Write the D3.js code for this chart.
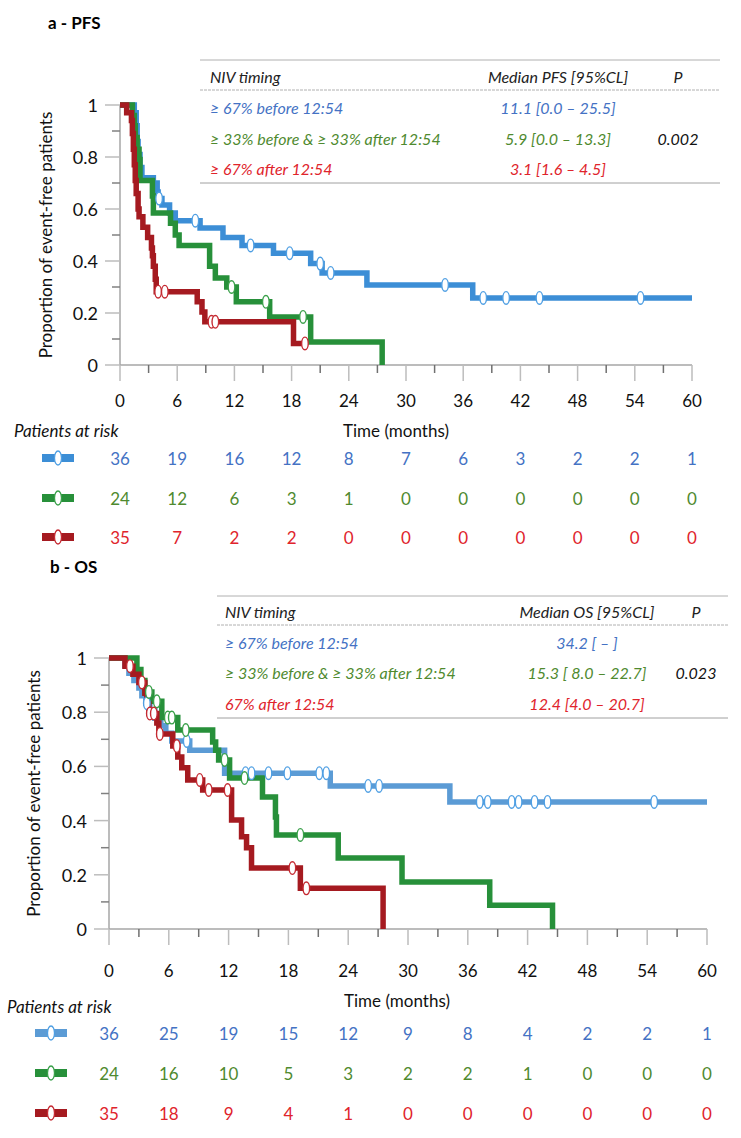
<!DOCTYPE html>
<html>
<head>
<meta charset="utf-8">
<script src="https://cdn.jsdelivr.net/npm/d3@7"></script>
<style>
body { margin: 0; background: #fff; }
svg text { font-family: Lato, "Open Sans", sans-serif; }
</style>
</head>
<body>
<svg id="chart" width="741" height="1138"></svg>
<script>
// ---- data ----
var months = [0, 6, 12, 18, 24, 30, 36, 42, 48, 54, 60];
var minorMonths = [3, 9, 15, 21, 27, 33, 39, 45, 51, 57];
var yTicks = [0, 0.2, 0.4, 0.6, 0.8, 1];
var yMinor = [0.1, 0.3, 0.5, 0.7, 0.9];

var pfsGroups = ["≥ 67% before 12:54", "≥ 33% before & ≥ 33% after 12:54", "≥ 67% after 12:54"];
var osGroups = ["≥ 67% before 12:54", "≥ 33% before & ≥ 33% after 12:54", "67% after 12:54"];
var pfsMedians = ["11.1 [0.0 – 25.5]", "5.9 [0.0 – 13.3]", "3.1 [1.6 – 4.5]"];
var osMedians = ["34.2 [ – ]", "15.3 [ 8.0 – 22.7]", "12.4 [4.0 – 20.7]"];
var pfsP = "0.002";
var osP = "0.023";

// step curves: [month, survival]
var pfsBlue = [[0,1],[1.5,0.97],[1.7,0.92],[1.8,0.86],[1.9,0.81],[2.1,0.76],[2.3,0.72],[3.5,0.70],[3.9,0.665],[4.0,0.64],[4.4,0.615],[5.2,0.585],[5.8,0.555],[8.4,0.527],[10.8,0.49],[12.8,0.46],[16.1,0.43],[20.0,0.39],[21.2,0.354],[25.9,0.308],[37.0,0.258],[60,0.258]];
var pfsGreen = [[0,1],[1.3,0.96],[1.5,0.92],[1.6,0.875],[1.8,0.83],[2.0,0.79],[2.1,0.71],[3.4,0.65],[3.5,0.585],[5.3,0.545],[5.8,0.50],[6.2,0.46],[9.4,0.38],[10.0,0.335],[11.2,0.30],[12.2,0.243],[15.7,0.185],[20.0,0.088],[27.5,0]];
var pfsRed = [[0,1],[0.7,0.97],[1.2,0.94],[1.3,0.89],[1.4,0.83],[1.5,0.77],[1.6,0.71],[1.7,0.66],[1.9,0.6],[2.0,0.57],[2.4,0.53],[2.9,0.49],[3.3,0.45],[3.4,0.42],[3.5,0.38],[3.7,0.33],[3.8,0.282],[8.1,0.243],[8.6,0.204],[8.9,0.166],[18.2,0.083],[19.4,0.083]];
var pfsBlueCens = [4.1, 7.9, 13.7, 17.8, 21.0, 22.1, 34.1, 38.1, 40.5, 44.0, 54.6];
var pfsGreenCens = [11.7, 15.3, 19.2];
var pfsRedCens = [4.0, 4.7, 9.6, 10.0, 19.4];

var osBlue = [[0,1],[1.6,0.972],[2.0,0.944],[2.5,0.917],[3.0,0.889],[3.3,0.861],[3.7,0.833],[4.1,0.806],[4.6,0.778],[5.2,0.75],[5.7,0.722],[6.3,0.694],[8.1,0.66],[11.6,0.575],[22.2,0.528],[34.2,0.469],[60,0.469]];
var osGreen = [[0,1],[2.8,0.958],[3.2,0.917],[3.6,0.875],[4.3,0.84],[5.3,0.78],[6.9,0.734],[10.4,0.69],[10.7,0.66],[11.0,0.624],[12.1,0.557],[15.4,0.487],[16.7,0.413],[16.8,0.347],[23.0,0.262],[29.4,0.173],[38.2,0.088],[44.5,0]];
var osRed = [[0,1],[1.6,0.97],[2.4,0.94],[3.0,0.91],[3.6,0.87],[3.8,0.83],[4.0,0.795],[4.8,0.76],[5.0,0.72],[6.4,0.675],[6.9,0.635],[7.3,0.595],[7.9,0.55],[9.4,0.513],[12.3,0.402],[13.3,0.34],[13.8,0.30],[14.3,0.225],[19.2,0.15],[27.5,0]];
var osBlueCens = [3.8, 7.8, 13.7, 14.3, 16.0, 17.9, 21.1, 21.8, 26.0, 27.1, 37.2, 38.0, 40.4, 41.1, 42.7, 44.0, 54.7];
var osGreenCens = [4.0, 4.8, 5.9, 6.3, 7.7, 11.6, 13.6, 19.2];
var osRedCens = [2.1, 3.3, 4.1, 4.5, 5.1, 6.8, 9.1, 10.0, 11.9, 18.4, 19.8];

// patients at risk
var pfsRiskBlue = [36, 19, 16, 12, 8, 7, 6, 3, 2, 2, 1];
var pfsRiskGreen = [24, 12, 6, 3, 1, 0, 0, 0, 0, 0, 0];
var pfsRiskRed = [35, 7, 2, 2, 0, 0, 0, 0, 0, 0, 0];
var osRiskBlue = [36, 25, 19, 15, 12, 9, 8, 4, 2, 2, 1];
var osRiskGreen = [24, 16, 10, 5, 3, 2, 2, 1, 0, 0, 0];
var osRiskRed = [35, 18, 9, 4, 1, 0, 0, 0, 0, 0, 0];

// ---- styles ----
var lineCol = { blueA: "#3c8ed6", blueB: "#5b9bd5", green: "#27903a", red: "#a51a20" };
var markCol = { blue: "#4f9fe3", green: "#3aa04a", red: "#c52a32" };
var textCol = ["#4472c4", "#4f8a2f", "#e0242c"];
var axisCol = "#a6a6a6";

var svg = d3.select("#chart");

function survAt(curve, t) {
    var s = 1;
    curve.forEach(function(p) { if (p[0] <= t) s = p[1]; });
    return s;
}

function drawPanel(cfg) {
    var g = svg.append("g");
    var x = d3.scaleLinear().domain([0, 60]).range([cfg.xL, cfg.xR]);
    var y = d3.scaleLinear().domain([0, 1]).range([cfg.yBot, cfg.yTop]);

    // title
    g.append("text").attr("x", cfg.titleX).attr("y", cfg.titleY)
        .attr("dominant-baseline", "central")
        .style("font-size", "17px").style("font-weight", "bold")
        .text(cfg.title);

    // header table
    g.append("line").attr("x1", cfg.tabL).attr("x2", cfg.tabR)
        .attr("y1", cfg.tabTop).attr("y2", cfg.tabTop)
        .attr("stroke", "#b0b0b0").attr("stroke-width", 1);
    g.append("line").attr("x1", cfg.tabL).attr("x2", cfg.tabR)
        .attr("y1", cfg.dashY).attr("y2", cfg.dashY)
        .attr("stroke", "#b0b0b0").attr("stroke-width", 1).attr("stroke-dasharray", "3,1");
    g.append("line").attr("x1", cfg.tabL).attr("x2", cfg.tabR)
        .attr("y1", cfg.tabBot).attr("y2", cfg.tabBot)
        .attr("stroke", "#a0a0a0").attr("stroke-width", 1);

    var tab = g.append("g").style("font-size", "16px").style("font-style", "italic")
        .attr("dominant-baseline", "central");
    tab.append("text").attr("x", cfg.tabTextX).attr("y", cfg.headY).attr("fill", "#222").text("NIV timing");
    tab.append("text").attr("x", cfg.medX).attr("y", cfg.headY).attr("fill", "#222")
        .attr("text-anchor", "middle").text(cfg.medHeader);
    tab.append("text").attr("x", cfg.pX).attr("y", cfg.headY).attr("fill", "#222")
        .attr("text-anchor", "middle").text("P");
    cfg.groups.forEach(function(name, i) {
        tab.append("text").attr("x", cfg.tabTextX).attr("y", cfg.rowY[i])
            .attr("fill", textCol[i]).text(name);
        tab.append("text").attr("x", cfg.medX).attr("y", cfg.rowY[i])
            .attr("fill", textCol[i]).attr("text-anchor", "middle").text(cfg.medians[i]);
    });
    tab.append("text").attr("x", cfg.pX).attr("y", cfg.rowY[1]).attr("fill", "#111")
        .attr("text-anchor", "middle").text(cfg.p);

    // axes
    g.append("line").attr("x1", x(0)).attr("x2", x(0)).attr("y1", y(1)).attr("y2", y(0))
        .attr("stroke", axisCol).attr("stroke-width", 1.5);
    g.append("line").attr("x1", x(0)).attr("x2", x(60)).attr("y1", y(0)).attr("y2", y(0))
        .attr("stroke", axisCol).attr("stroke-width", 1.5);

    g.selectAll(".ymaj").data(yTicks).enter().append("line")
        .attr("x1", x(0) - 15).attr("x2", x(0)).attr("y1", d => y(d)).attr("y2", d => y(d))
        .attr("stroke", "#bdbdbd").attr("stroke-width", 1.5);
    g.selectAll(".ymin").data(yMinor).enter().append("line")
        .attr("x1", x(0) - 8).attr("x2", x(0)).attr("y1", d => y(d)).attr("y2", d => y(d))
        .attr("stroke", "#808080").attr("stroke-width", 1.5);
    g.selectAll(".ylab").data(yTicks).enter().append("text")
        .attr("x", x(0) - 22).attr("y", d => y(d))
        .attr("text-anchor", "end").attr("dominant-baseline", "central")
        .style("font-size", "18px").attr("fill", "#111")
        .text(d => d3.format("")(+d.toFixed(1)));

    g.selectAll(".xmaj").data(months).enter().append("line")
        .attr("x1", d => x(d)).attr("x2", d => x(d)).attr("y1", y(0)).attr("y2", y(0) + 16)
        .attr("stroke", "#bdbdbd").attr("stroke-width", 1.5);
    g.selectAll(".xmin").data(minorMonths).enter().append("line")
        .attr("x1", d => x(d)).attr("x2", d => x(d)).attr("y1", y(0)).attr("y2", y(0) + 8)
        .attr("stroke", "#707070").attr("stroke-width", 1.5);
    g.selectAll(".xlab").data(months).enter().append("text")
        .attr("x", d => x(d)).attr("y", cfg.xLabY)
        .attr("text-anchor", "middle").attr("dominant-baseline", "central")
        .style("font-size", "17px").attr("fill", "#111")
        .text(d => d);

    g.append("text")
        .attr("transform", "translate(" + cfg.yTitleX + "," + ((y(0) + y(1)) / 2) + ") rotate(-90)")
        .attr("text-anchor", "middle").attr("dominant-baseline", "central")
        .style("font-size", "17px").attr("fill", "#111")
        .text("Proportion of event-free patients");

    g.append("text").attr("x", cfg.timeX).attr("y", cfg.timeY)
        .attr("text-anchor", "middle").attr("dominant-baseline", "central")
        .style("font-size", "17px").attr("fill", "#111").text("Time (months)");
    g.append("text").attr("x", cfg.patX).attr("y", cfg.patY)
        .attr("dominant-baseline", "central")
        .style("font-size", "17px").style("font-style", "italic").attr("fill", "#111")
        .text("Patients at risk");

    // curves
    var line = d3.line().x(d => x(d[0])).y(d => y(d[1])).curve(d3.curveStepAfter);
    cfg.curves.forEach(function(c) {
        g.append("path").datum(c.data).attr("d", line)
            .attr("fill", "none").attr("stroke", c.color).attr("stroke-width", 5.5)
            .attr("stroke-linejoin", "miter").attr("stroke-linecap", "butt");
    });
    cfg.curves.forEach(function(c) {
        g.selectAll(null).data(c.cens).enter().append("ellipse")
            .attr("cx", d => x(d)).attr("cy", d => y(survAt(c.data, d)))
            .attr("rx", 3.3).attr("ry", 6.3)
            .attr("fill", "#fff").attr("stroke", c.mark).attr("stroke-width", 1.4);
    });

    // patients at risk table
    cfg.curves.forEach(function(c, i) {
        var ry = cfg.riskY[i];
        g.append("line").attr("x1", cfg.iconX - 16).attr("x2", cfg.iconX + 16)
            .attr("y1", ry).attr("y2", ry).attr("stroke", c.color).attr("stroke-width", 8);
        g.append("ellipse").attr("cx", cfg.iconX).attr("cy", ry).attr("rx", 3.5).attr("ry", 7)
            .attr("fill", "#fff").attr("stroke", c.mark).attr("stroke-width", 1.3);
        g.selectAll(null).data(c.risk).enter().append("text")
            .attr("x", (d, j) => x(months[j])).attr("y", ry)
            .attr("text-anchor", "middle").attr("dominant-baseline", "central")
            .style("font-size", "17px").attr("fill", textCol[i])
            .text(d => d);
    });
}

drawPanel({
    title: "a - PFS", titleX: 48, titleY: 22,
    xL: 120, xR: 692, yTop: 105, yBot: 365, yTitleX: 45,
    tabL: 200, tabR: 720, tabTextX: 210, tabTop: 60, headY: 76, dashY: 90,
    rowY: [107, 138, 168], tabBot: 183, medX: 558, pX: 678,
    medHeader: "Median PFS [95%CL]", groups: pfsGroups, medians: pfsMedians, p: pfsP,
    xLabY: 400, timeX: 396, timeY: 430, patX: 14, patY: 430,
    riskY: [458, 498, 537], iconX: 58,
    curves: [
        { data: pfsBlue, cens: pfsBlueCens, color: lineCol.blueA, mark: markCol.blue, risk: pfsRiskBlue },
        { data: pfsGreen, cens: pfsGreenCens, color: lineCol.green, mark: markCol.green, risk: pfsRiskGreen },
        { data: pfsRed, cens: pfsRedCens, color: lineCol.red, mark: markCol.red, risk: pfsRiskRed }
    ]
});

drawPanel({
    title: "b - OS", titleX: 50, titleY: 566,
    xL: 109, xR: 707, yTop: 658, yBot: 929, yTitleX: 33,
    tabL: 217, tabR: 728, tabTextX: 225, tabTop: 596, headY: 611, dashY: 625,
    rowY: [642, 672, 703], tabBot: 718, medX: 587, pX: 696,
    medHeader: "Median OS [95%CL]", groups: osGroups, medians: osMedians, p: osP,
    xLabY: 970, timeX: 397, timeY: 1000, patX: 7, patY: 1006,
    riskY: [1033, 1073, 1113], iconX: 51,
    curves: [
        { data: osBlue, cens: osBlueCens, color: lineCol.blueB, mark: markCol.blue, risk: osRiskBlue },
        { data: osGreen, cens: osGreenCens, color: lineCol.green, mark: markCol.green, risk: osRiskGreen },
        { data: osRed, cens: osRedCens, color: lineCol.red, mark: markCol.red, risk: osRiskRed }
    ]
});
</script>
</body>
</html>
